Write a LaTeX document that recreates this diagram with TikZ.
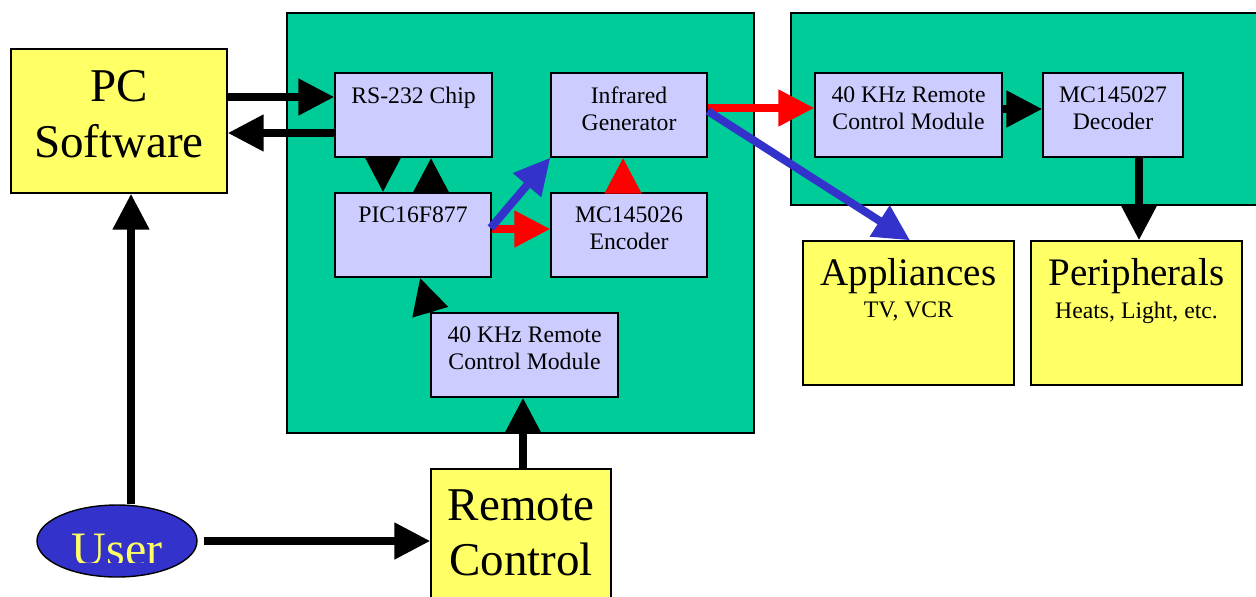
\documentclass[tikz,border=0pt]{standalone}
\usepackage{fontspec}
\setmainfont{Liberation Serif}
\usetikzlibrary{arrows.meta,calc,positioning,shapes.geometric}
\definecolor{boardgreen}{HTML}{00CC99}
\definecolor{chiplav}{HTML}{CCCCFF}
\definecolor{devyellow}{HTML}{FFFF66}
\definecolor{sigblue}{HTML}{3333CC}
\definecolor{sigred}{HTML}{FF0000}
\tikzset{
	dims/.style 2 args={minimum width=#1*0.5pt, minimum height=#2*0.5pt},
	board/.style={draw, line width=0.7pt, fill=boardgreen, inner sep=0pt},
	chip/.style={draw, line width=0.7pt, fill=chiplav, inner sep=0pt},
	device/.style={draw, line width=0.7pt, fill=devyellow, inner sep=0pt},
	smalltxt/.style={inner sep=0pt, align=center, font=\fontsize{11.85}{13.75}\selectfont},
	bigtxt/.style={inner sep=0pt, align=center, font=\fontsize{23.5}{27.75}\selectfont},
	midtxt/.style={inner sep=0pt, font=\fontsize{19.5}{23}\selectfont},
	link/.style={line width=4pt, -{Triangle[length=18pt,width=17.5pt]}},
}

\begin{document}
\begin{tikzpicture}[x=0.5pt,y=-0.5pt]
			%%%%% START %%%%%
			\useasboundingbox (0,0) rectangle (1256,596);
			\clip (0,0) rectangle (1256,596);
			
			\node[board, dims={467}{420}] (txboard) at (520.5,223) {};
			\node[board, dims={479}{192}] (rxboard) at (1030.5,109) {};
			
			\node[device, dims={216}{144}] (pc) at (119,121) {};
			\node[bigtxt, below=11pt of pc.north] (pctxt) {PC\\Software};
			
			\node[draw, line width=0.7pt, ellipse, fill=sigblue, inner sep=0pt, dims={160}{72}] (user) at (117,541) {};
			\begin{scope}
				\clip (user.north west) rectangle ($(user.east)+(0,21)$);
				\node[anchor=base, inner sep=0pt, text=devyellow, font=\fontsize{24}{28}\selectfont] (usertxt) at ($(user.center)+(0,24)$) {User};
			\end{scope}
			
			\node[device, dims={180}{160}] (remote) at (521,549) {};
			\node[bigtxt, below=10.5pt of remote.north] (remotetxt) {Remote\\Control};
			
			\node[chip, dims={157}{84}] (rs) at (413.5,115) {};
			\node[smalltxt, below=7pt of rs.north] (rstxt) {RS-232 Chip};
			\node[chip, dims={156}{84}] (pic) at (413,235) {};
			\node[smalltxt, below=7pt of pic.north] (pictxt) {PIC16F877};
			\node[chip, dims={156}{84}] (ir) at (629,115) {};
			\node[smalltxt, below=7pt of ir.north] (irtxt) {Infrared\\Generator};
			\node[chip, dims={156}{84}] (enc) at (629,235) {};
			\node[smalltxt, below=7pt of enc.north] (enctxt) {MC145026\\Encoder};
			\node[chip, dims={187}{84}] (rxin) at (524.5,355) {};
			\node[smalltxt, below=7pt of rxin.north] (rxintxt) {40 KHz Remote\\Control Module};
			
			\node[chip, dims={187}{84}] (rxmod) at (908.5,115) {};
			\node[smalltxt, below=7pt of rxmod.north] (rxmodtxt) {40 KHz Remote\\Control Module};
			\node[chip, dims={140}{84}] (dec) at (1113,115) {};
			\node[smalltxt, below=7pt of dec.north] (dectxt) {MC145027\\Decoder};
			
			\node[device, dims={211}{144}] (app) at (908.5,313) {};
			\node[midtxt, below=8.7pt of app.north] (apptxt) {Appliances};
			\node[smalltxt, below=8pt of apptxt.base] (appsub) {TV, VCR};
			\node[device, dims={211}{144}] (per) at (1136.5,313) {};
			\node[midtxt, below=8.7pt of per.north] (pertxt) {Peripherals};
			\node[smalltxt, below=8pt of pertxt.base] (persub) {Heats, Light, etc.};
			
			\draw[link] ($(pc.east)+(0,-24)$) -- ($(rs.west)+(0,-18)$);
			\draw[link] ($(rs.west)+(0,18)$) -- ($(pc.east)+(0,12)$);
			\draw[link] ($(rs.south)+(-30.5,0)$) -- ($(pic.north)+(-30,0)$);
			\draw[link] ($(pic.north)+(18,0)$) -- ($(rs.south)+(17.5,0)$);
			\draw[link, sigred] ($(enc.north)+(-6,0)$) -- ($(ir.south)+(-6,0)$);
			\draw[link, sigred] ($(pic.east)+(0,-6)$) -- ($(enc.west)+(0,-6)$);
			\draw[link, sigblue] ($(pic.east)+(-1,-7)$) -- (ir.south west);
			\draw[link, sigred] ($(ir.east)+(0,-7)$) -- ($(rxmod.west)+(0,-7)$);
			\draw[link, sigblue] ($(ir.east)+(0,-4)$) -- ($(app.north)+(1.5,0)$);
			\draw[link] ($(rxmod.east)+(0,-6)$) -- ($(dec.west)+(0,-6)$);
			\draw[link] ($(dec.south)+(26,0)$) -- ($(per.north)+(2.5,0)$);
			
			\draw[link] ($(user.north)+(14,0)$) -- ($(pc.south)+(12,0)$);
			\draw[link] ($(user.east)+(6,0)$) -- ($(remote.west)+(0,-8)$);
			\draw[link] ($(remote.north)+(2,0)$) -- ($(rxin.south)+(-1.5,0)$);
			\draw[link] (rxin.north west) -- ($(pic.south)+(7,0)$);
			
			%%%%% END %%%%%
\end{tikzpicture}
\end{document}
